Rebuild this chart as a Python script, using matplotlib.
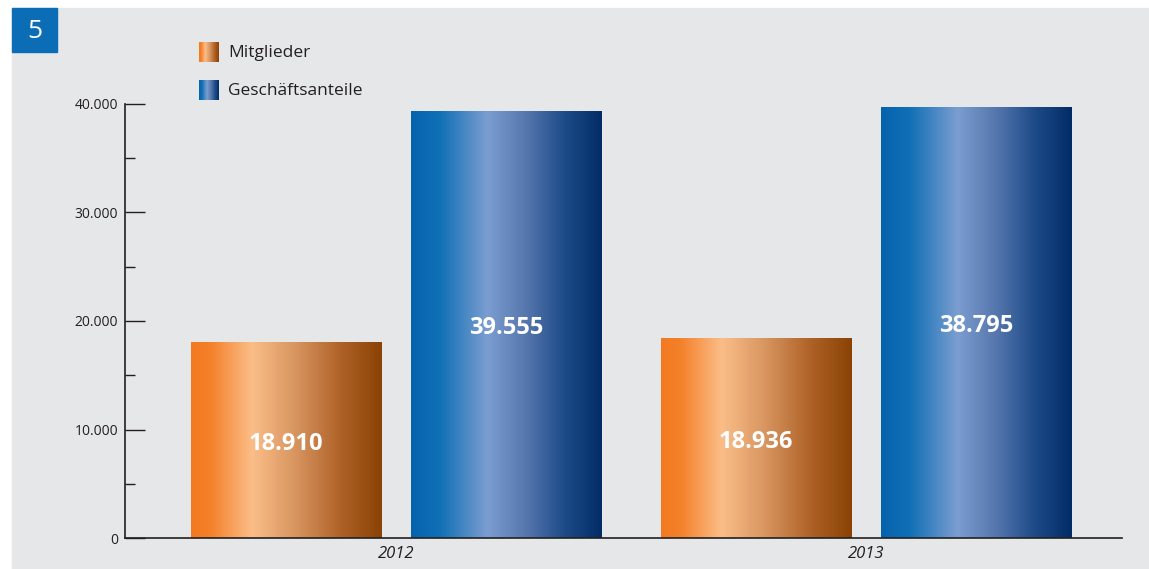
import matplotlib.pyplot as plt
import numpy as np
from matplotlib.colors import LinearSegmentedColormap
from matplotlib.patches import Rectangle

years = ['2012', '2013']
series = ['Mitglieder', 'Geschäftsanteile']
# bar heights as drawn in the picture, labels as printed on the bars
mitglieder = [18000, 18370]
anteile = [39290, 39660]
mitglieder_labels = ['18.910', '18.936']
anteile_labels = ['39.555', '38.795']
yticks = [0, 10000, 20000, 30000, 40000]
ytick_labels = ['0', '10.000', '20.000', '30.000', '40.000']

plt.rcParams['font.family'] = ['Open Sans', 'DejaVu Sans']

orange = LinearSegmentedColormap.from_list('orange', [
    (0.0, '#f37a20'), (0.1, '#f4802a'), (0.32, '#fbbe88'),
    (0.55, '#d7945f'), (0.8, '#ac5f24'), (1.0, '#8a4304')])
blue = LinearSegmentedColormap.from_list('blue', [
    (0.0, '#0563ae'), (0.15, '#1070b6'), (0.4, '#7b9dd0'),
    (0.6, '#5777ae'), (0.8, '#1e4c88'), (1.0, '#022c66')])
grad = np.linspace(0, 1, 256).reshape(1, -1)

W, H = 1149, 569
fig = plt.figure(figsize=(W / 100, H / 100), dpi=100, facecolor='white')
fig.add_artist(Rectangle((12 / W, 0), 1 - 12 / W, 1 - 8 / H,
                         transform=fig.transFigure, color='#e6e7e9', zorder=0))
fig.add_artist(Rectangle((12 / W, 1 - 52 / H), 45 / W, 44 / H,
                         transform=fig.transFigure, color='#0a6db5', zorder=1))
fig.text(34.5 / W, 1 - 31 / H, '5', color='white', fontsize=19,
         ha='center', va='center')

ax = fig.add_axes([125 / W, 31 / H, 997.5 / W, 434 / H])
ax.set_facecolor('none')

x = np.arange(len(years))
width = 0.405
offset = 0.234
bars_m = ax.bar(x - offset, mitglieder, width, color='none')
bars_a = ax.bar(x + offset, anteile, width, color='none')

for bars, cmap, labels in [(bars_m, orange, mitglieder_labels),
                           (bars_a, blue, anteile_labels)]:
    for rect, lab in zip(bars, labels):
        x0, y0 = rect.get_x(), rect.get_y()
        w, h = rect.get_width(), rect.get_height()
        ax.imshow(grad, cmap=cmap, aspect='auto', extent=(x0, x0 + w, y0, y0 + h),
                  zorder=2)
        ax.text(x0 + w / 2, y0 + h / 2 - 300, lab, color='white', fontsize=17,
                fontweight='bold', ha='center', va='center', zorder=3)

ax.set_xlim(-0.577, 1.546)
ax.set_ylim(0, 40000)
ax.set_xticks(x)
ax.set_xticklabels(years, fontstyle='italic', fontsize=12, color='#231f20')
ax.tick_params(axis='x', length=0, pad=6)
ax.set_yticks(yticks)
ax.set_yticklabels(ytick_labels, fontsize=10, color='#231f20')
ax.set_yticks([5000, 15000, 25000, 35000], minor=True)
ax.tick_params(axis='y', which='major', direction='in', length=14.5, width=1,
               color='#231f20', pad=5)
ax.tick_params(axis='y', which='minor', direction='in', length=7, width=1,
               color='#231f20')
for s in ['top', 'right']:
    ax.spines[s].set_visible(False)
for s in ['left', 'bottom']:
    ax.spines[s].set_color('#231f20')
    ax.spines[s].set_linewidth(1.2)

# legend
for i, (name, cmap) in enumerate(zip(series, [orange, blue])):
    top = 42 + i * 38
    lax = fig.add_axes([199 / W, 1 - (top + 20) / H, 20 / W, 20 / H])
    lax.imshow(grad, cmap=cmap, aspect='auto')
    lax.axis('off')
    fig.text(228 / W, 1 - (top + 11) / H, name, fontsize=12.5, color='#231f20',
             va='center', ha='left')

fig.savefig('out.png', dpi=100, facecolor='white')
